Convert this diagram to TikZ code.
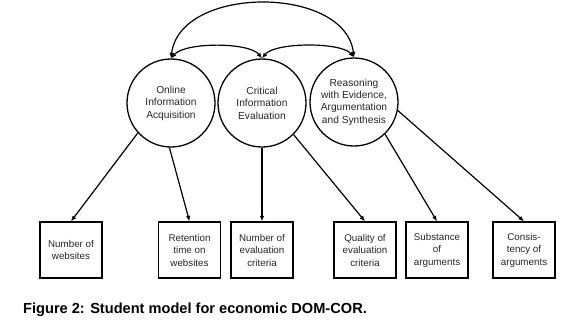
\documentclass[tikz,border=0pt]{standalone}
\usepackage{fontspec}
\setmainfont{Liberation Sans}
\usetikzlibrary{arrows.meta}
\begin{document}
\begin{tikzpicture}[x=1pt,y=-1pt,
  latent/.style={circle,draw,line width=1.3pt,minimum size=88pt,inner sep=0pt,align=center,
    text=black!85,font=\fontsize{10.2}{12.4}\selectfont},
  indic/.style={rectangle,draw,line width=1.3pt,minimum width=62pt,minimum height=56pt,inner sep=0pt,align=center,
    text=black!85,font=\fontsize{9.8}{12.5}\selectfont},
  arr/.style={line width=1.2pt,-{Latex[length=5.5pt,width=4.5pt]}},
  dbl/.style={line width=1.2pt,{Latex[length=5.5pt,width=4.5pt]}-{Latex[length=5.5pt,width=4.5pt]}}]
\useasboundingbox (0,0) rectangle (570,327);
\node[latent] (c1) at (171,103) {Online\\Information\\Acquisition};
\node[latent] (c2) at (262,103) {Critical\\Information\\Evaluation};
\node[latent] (c3) at (354,102) {Reasoning\\with Evidence,\\Argumentation\\and Synthesis};
\node[indic] (b1) at (71,250) {Number of\\websites};
\node[indic] (b2) at (189.5,250) {Retention\\time on\\websites};
\node[indic] (b3) at (262,250) {Number of\\evaluation\\criteria};
\node[indic] (b4) at (365,250) {Quality of\\evaluation\\criteria};
\node[indic] (b5) at (437,250) {Substance\\of\\arguments};
\node[indic] (b6) at (524,250) {Consis-\\tency of\\arguments};
\draw[arr] (c1.222) -- (b1.north);
\draw[arr] (c1.268) -- (b2.north);
\draw[arr] (c2.south) -- (b3.north);
\draw[arr] (c2.315) -- (b4.north);
\draw[arr] (c3.314) -- (b5.north);
\draw[arr] (c3.349) -- (b6.north);
\draw[dbl] (c1.north) .. controls (180,-15) and (345,-15) .. (c3.north);
\draw[dbl] (c1.north) .. controls (185,42) and (249,42) .. (c2.north);
\draw[dbl] (c2.north) .. controls (275,42) and (341,42) .. (c3.north);
\node[anchor=base west,inner sep=0pt,font=\fontsize{14.6}{16}\selectfont\bfseries] (cap) at (23,313) {Figure 2: Student model for economic DOM-COR.};
\end{tikzpicture}
\end{document}
